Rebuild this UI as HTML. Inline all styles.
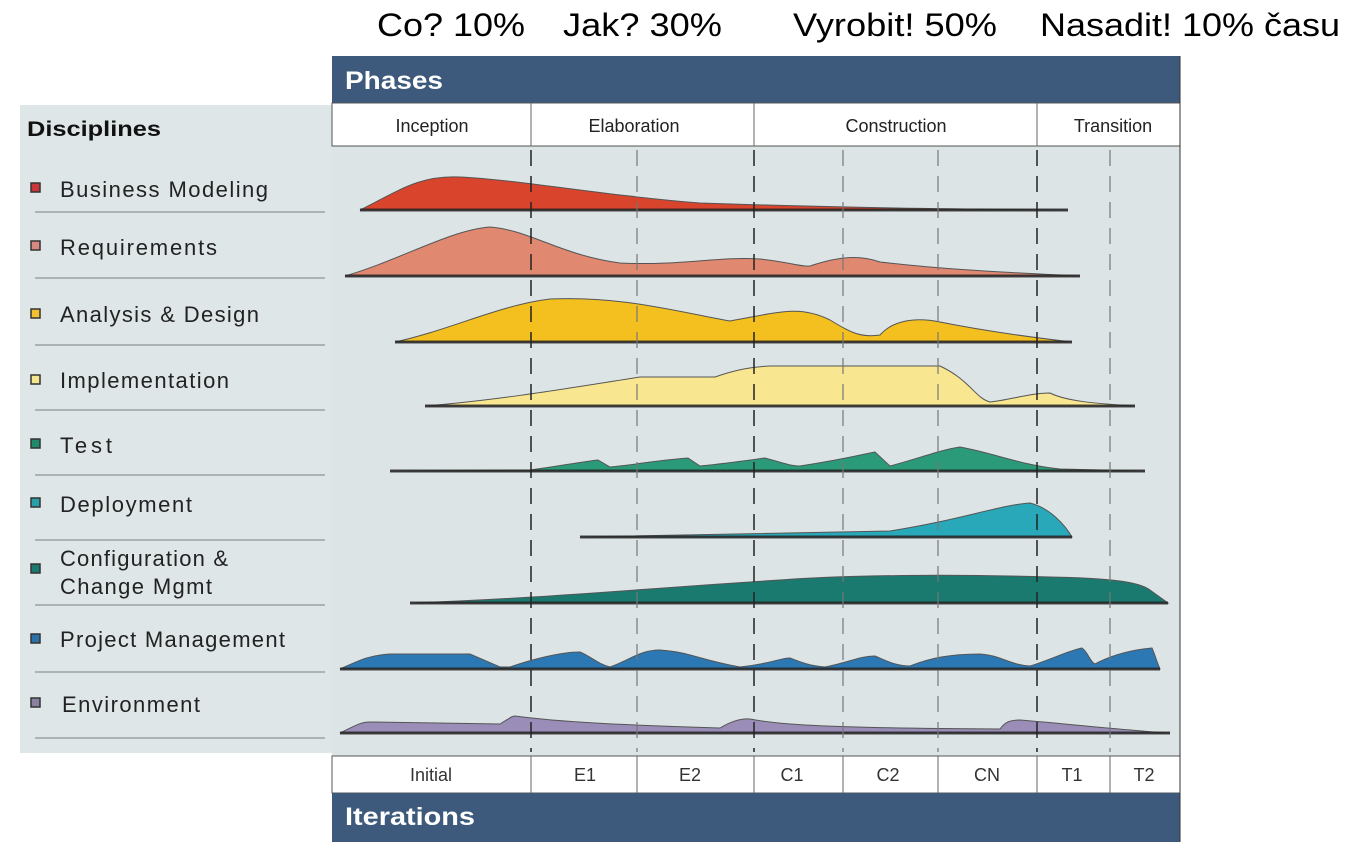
<!DOCTYPE html>
<html><head><meta charset="utf-8"><style>
body{margin:0;background:#fff;}
svg{display:block;font-family:"Liberation Sans",sans-serif;}
</style></head><body>
<svg width="1349" height="854" viewBox="0 0 1349 854">
<g font-size="32" fill="#000">
<text x="377" y="36" textLength="148" lengthAdjust="spacingAndGlyphs">Co? 10%</text>
<text x="563" y="36" textLength="159" lengthAdjust="spacingAndGlyphs">Jak? 30%</text>
<text x="793" y="36" textLength="204" lengthAdjust="spacingAndGlyphs">Vyrobit! 50%</text>
<text x="1040" y="36" textLength="300" lengthAdjust="spacingAndGlyphs">Nasadit! 10% času</text>
</g>
<rect x="20" y="105" width="312" height="648" fill="#dfe6e8"/>
<rect x="332" y="146" width="848" height="610" fill="#dce4e6"/>
<rect x="332" y="56" width="848" height="47" fill="#3d5a7c"/>
<text x="345" y="89" font-size="25" font-weight="bold" fill="#fff" textLength="98" lengthAdjust="spacingAndGlyphs">Phases</text>
<rect x="332" y="103" width="848" height="43" fill="#fff" stroke="#555" stroke-width="1"/>
<g stroke="#666" stroke-width="1"><line x1="531" y1="103" x2="531" y2="146"/><line x1="754" y1="103" x2="754" y2="146"/><line x1="1037" y1="103" x2="1037" y2="146"/></g>
<g font-size="18" fill="#222" text-anchor="middle">
<text x="432" y="132">Inception</text><text x="634" y="132">Elaboration</text><text x="896" y="132">Construction</text><text x="1113" y="132">Transition</text>
</g>
<rect x="332" y="756" width="848" height="37" fill="#fff" stroke="#555" stroke-width="1"/>
<g stroke="#666" stroke-width="1">
<line x1="531" y1="756" x2="531" y2="793"/><line x1="637" y1="756" x2="637" y2="793"/><line x1="754" y1="756" x2="754" y2="793"/><line x1="843" y1="756" x2="843" y2="793"/><line x1="938" y1="756" x2="938" y2="793"/><line x1="1037" y1="756" x2="1037" y2="793"/><line x1="1110" y1="756" x2="1110" y2="793"/>
</g>
<g font-size="18" fill="#333" text-anchor="middle">
<text x="431" y="781">Initial</text><text x="585" y="781">E1</text><text x="690" y="781">E2</text><text x="792" y="781">C1</text><text x="888" y="781">C2</text><text x="987" y="781">CN</text><text x="1072" y="781">T1</text><text x="1144" y="781">T2</text>
</g>
<rect x="332" y="793" width="848" height="49" fill="#3d5a7c"/>
<text x="345" y="825" font-size="25" font-weight="bold" fill="#fff" textLength="130" lengthAdjust="spacingAndGlyphs">Iterations</text>
<line x1="1180" y1="56" x2="1180" y2="842" stroke="#333"/>
<text x="27" y="136" font-size="21" font-weight="bold" fill="#111" textLength="134" lengthAdjust="spacingAndGlyphs">Disciplines</text>
<g stroke="#9aa2a6" stroke-width="1.5">
<line x1="35" y1="212" x2="325" y2="212"/><line x1="35" y1="278" x2="325" y2="278"/><line x1="35" y1="345" x2="325" y2="345"/><line x1="35" y1="410" x2="325" y2="410"/><line x1="35" y1="475" x2="325" y2="475"/><line x1="35" y1="540" x2="325" y2="540"/><line x1="35" y1="605" x2="325" y2="605"/><line x1="35" y1="672" x2="325" y2="672"/><line x1="35" y1="738" x2="325" y2="738"/>
</g>
<g font-size="22" fill="#222" lengthAdjust="spacingAndGlyphs">
<text x="60" y="197" textLength="208">Business Modeling</text>
<text x="60" y="255" textLength="157">Requirements</text>
<text x="60" y="322" textLength="199">Analysis &amp; Design</text>
<text x="60" y="388" textLength="169">Implementation</text>
<text x="60" y="453" textLength="52">Test</text>
<text x="60" y="512" textLength="132">Deployment</text>
<text x="60" y="566" textLength="168">Configuration &amp;</text>
<text x="60" y="594" textLength="152">Change Mgmt</text>
<text x="60" y="647" textLength="225">Project Management</text>
<text x="62" y="712" textLength="138">Environment</text>
</g>
<g stroke="#333" stroke-width="1.5">
<rect x="31" y="183" width="9" height="9" fill="#c8383a"/>
<rect x="31" y="241" width="9" height="9" fill="#d98a80"/>
<rect x="31" y="309" width="9" height="9" fill="#f0c030"/>
<rect x="31" y="375" width="9" height="9" fill="#f4e690"/>
<rect x="31" y="439" width="9" height="9" fill="#1f8a6a"/>
<rect x="31" y="498" width="9" height="9" fill="#2aa0a8"/>
<rect x="31" y="564" width="9" height="9" fill="#1a7a70"/>
<rect x="31" y="634" width="9" height="9" fill="#2c70a8"/>
<rect x="31" y="698" width="9" height="9" fill="#8a80a0"/>
</g>
<g stroke="#555" stroke-width="1">
<path d="M360 210 C400 190 420 175 460 177 C520 180 600 195 700 203 C850 208 950 209 1068 210 Z" fill="#d8442c"/>
<path d="M345 276 C400 260 450 230 490 227 C530 230 560 255 620 263 C680 266 720 256 760 259 C790 262 800 267 810 266 C840 256 860 255 880 262 C950 270 1000 272 1080 276 Z" fill="#e08870"/>
<path d="M395 342 C450 330 500 305 550 299 C620 296 670 310 730 321 C780 312 800 305 830 320 C850 332 860 338 880 335 C895 318 920 318 940 322 C980 330 1020 336 1072 342 Z" fill="#f4c020"/>
<path d="M425 406 C500 400 570 388 640 377 L715 377 C735 370 750 367 770 366 L940 366 C970 380 975 398 990 402 C1010 400 1030 393 1050 393 C1070 403 1110 404 1135 406 Z" fill="#f8e690"/>
<path d="M390 471 L530 470 C560 466 580 462 598 460 L610 467 C640 464 660 460 688 458 L700 466 C730 463 750 460 765 458 C780 462 790 466 800 466 C840 460 860 455 875 452 L890 466 C920 458 940 450 960 447 C990 452 1020 465 1060 469 L1145 471 Z" fill="#2a9a78"/>
<path d="M580 537 C700 534 800 533 890 531 C960 520 1000 505 1030 503 C1050 508 1065 525 1072 537 Z" fill="#28a8b8"/>
<path d="M410 603 C550 598 650 588 780 580 C850 575 950 574 1050 577 C1110 578 1140 582 1150 590 L1168 603 Z" fill="#1a7a70"/>
<path d="M340 669 C360 660 370 655 390 654 L470 654 L500 667 L510 667 C530 660 560 652 580 652 C590 656 598 664 610 667 C630 660 640 650 660 650 C690 652 700 660 740 667 C770 664 780 658 790 658 C800 662 810 666 825 667 C850 662 860 656 875 656 C885 660 895 666 910 666 C930 658 950 654 980 654 C1000 655 1010 665 1030 666 C1050 660 1070 650 1082 648 C1088 652 1090 662 1095 664 C1110 656 1130 650 1152 648 C1155 655 1157 662 1160 669 Z" fill="#2c78b4"/>
<path d="M340 733 C355 726 360 722 370 722 L500 724 C510 718 512 716 515 716 C560 722 620 725 720 728 C730 722 740 718 750 719 C780 725 830 728 1000 729 C1005 722 1010 720 1020 720 C1080 725 1120 730 1170 733 Z" fill="#9a8eb8"/>
</g>
<g stroke="#222" stroke-width="3" opacity="0.8">
<line x1="360" y1="210" x2="1068" y2="210"/><line x1="345" y1="276" x2="1080" y2="276"/><line x1="395" y1="342" x2="1072" y2="342"/><line x1="425" y1="406" x2="1135" y2="406"/><line x1="390" y1="471" x2="1145" y2="471"/><line x1="580" y1="537" x2="1072" y2="537"/><line x1="410" y1="603" x2="1168" y2="603"/><line x1="340" y1="669" x2="1160" y2="669"/><line x1="340" y1="733" x2="1170" y2="733"/>
</g>
<g stroke="#222" stroke-width="1.5" stroke-dasharray="16,10">
<line x1="531" y1="150" x2="531" y2="752"/><line x1="754" y1="150" x2="754" y2="752"/><line x1="1037" y1="150" x2="1037" y2="752"/>
</g>
<g stroke="#777" stroke-width="1.2" stroke-dasharray="16,10">
<line x1="637" y1="150" x2="637" y2="752"/><line x1="843" y1="150" x2="843" y2="752"/><line x1="938" y1="150" x2="938" y2="752"/><line x1="1110" y1="150" x2="1110" y2="752"/>
</g>
</svg>
</body></html>
